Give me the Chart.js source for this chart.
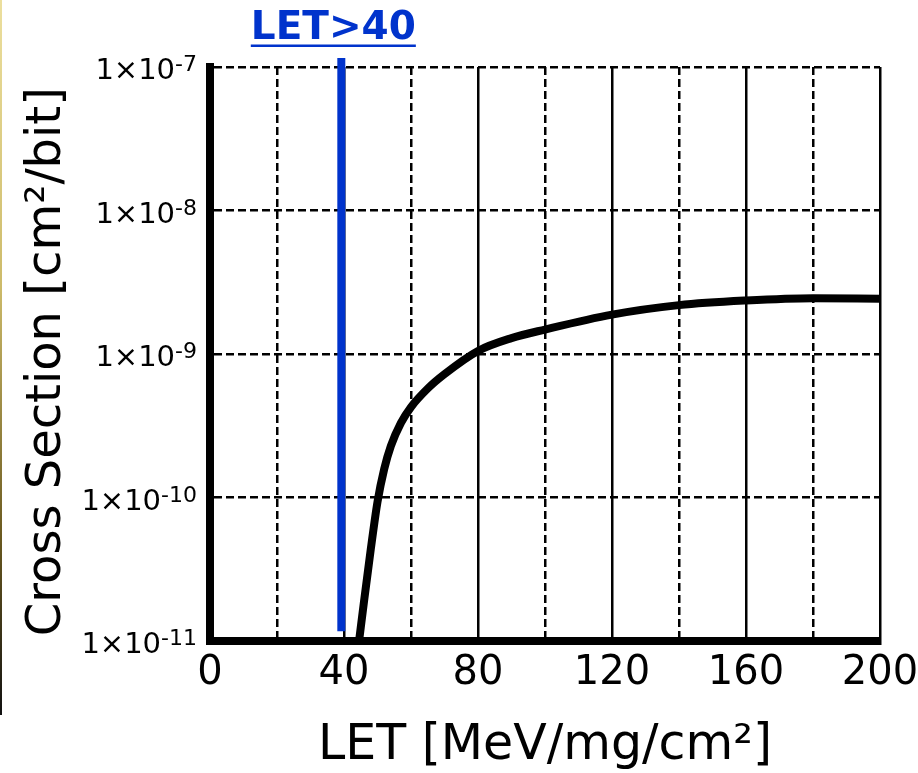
<!DOCTYPE html>
<html>
<head>
<meta charset="utf-8">
<script src="https://cdn.jsdelivr.net/npm/chart.js@4"></script>
<style>
html, body { margin: 0; padding: 0; background: #fff; }
#wrap { position: relative; width: 918px; height: 773px; }
#edge { position: absolute; left: 0; top: 0; width: 2px; height: 715px;
        background: linear-gradient(#ecdf9e, #cdbb6a 40%, #6b5a20 75%, #111); }
canvas { display: block; }
</style>
</head>
<body>
<div id="wrap">
  <div id="edge"></div>
  <canvas id="myChart" width="918" height="773"></canvas>
</div>
<script>
// LET [MeV/mg/cm2] vs cross section [cm2/bit]
var letValues = [44.5, 46, 48, 50, 52, 54, 57, 60, 65, 70, 80, 90, 100, 120, 140, 160, 180, 200];
var crossSection = [1e-11, 1.91e-11, 4.37e-11, 9.33e-11, 1.58e-10, 2.29e-10, 3.31e-10, 4.27e-10, 5.75e-10,
                    7.24e-10, 1.05e-9, 1.29e-9, 1.48e-9, 1.88e-9, 2.19e-9, 2.36e-9, 2.45e-9, 2.43e-9];

// threshold marker (blue vertical line)
var letThreshold = 39.2;
var markerRange = [1.17e-11, 1.155e-7];

var xTicks = [0, 20, 40, 60, 80, 100, 120, 140, 160, 180, 200];
var xTickLabels = ['0', '', '40', '', '80', '', '120', '', '160', '', '200'];
var xDashed = [20, 60, 100, 140, 180];
var yTicks = [1e-11, 1e-10, 1e-9, 1e-8, 1e-7];
var yTickBase = '1×10';
var yTickExponents = ['-11', '-10', '-9', '-8', '-7'];

var blue = '#0033cc';
var font = '"DejaVu Sans", Verdana, sans-serif';

// y tick labels with a real superscript exponent, placed on the y scale
var yLabels = {
    id: 'yLabels',
    afterDraw: function(chart)
    {
        var ctx = chart.ctx;
        var ys = chart.scales.y;
        var right = ys.right - 13;
        ctx.save();
        ctx.fillStyle = '#000';
        ctx.textAlign = 'left';
        ctx.textBaseline = 'alphabetic';
        for (var i = 0; i < yTicks.length; i++)
        {
            var py = ys.getPixelForValue(yTicks[i]);
            ctx.font = '22px ' + font;
            var ew = ctx.measureText(yTickExponents[i]).width;
            ctx.font = '29px ' + font;
            var bw = ctx.measureText(yTickBase).width;
            ctx.fillText(yTickBase, right - ew - bw, py + 12);
            ctx.font = '22px ' + font;
            ctx.fillText(yTickExponents[i], right - ew, py + 4);
        }
        ctx.restore();
    }
};

var markerLabel = {
    id: 'markerLabel',
    afterDraw: function(chart)
    {
        var ctx = chart.ctx;
        var px = chart.scales.x.getPixelForValue(letThreshold) - 8;
        ctx.save();
        ctx.font = 'bold 39px ' + font;
        ctx.fillStyle = blue;
        ctx.textAlign = 'center';
        ctx.textBaseline = 'alphabetic';
        ctx.fillText('LET>40', px, 39);
        var w = ctx.measureText('LET>40').width;
        ctx.fillRect(px - w / 2, 44.5, w, 2.5);
        ctx.restore();
    }
};

var curve = letValues.map(function(v, i) { return {x: v, y: crossSection[i]}; });
var marker = markerRange.map(function(v) { return {x: letThreshold, y: v}; });

var canvas = document.getElementById('myChart');
var myChart = new Chart(canvas.getContext('2d'),
{
    type: 'line',
    data:
    {
        datasets:
        [{
            data: curve,
            borderColor: '#000',
            borderWidth: 8,
            pointRadius: 0,
            cubicInterpolationMode: 'monotone'
        },
        {
            data: marker,
            borderColor: blue,
            borderWidth: 8,
            pointRadius: 0,
            clip: false
        }]
    },
    options:
    {
        responsive: false,
        animation: false,
        devicePixelRatio: 1,
        layout: {padding: {top: 67, right: 38, bottom: 0, left: 0}},
        plugins: {legend: {display: false}, tooltip: {enabled: false}, title: {display: false}},
        scales:
        {
            x:
            {
                type: 'linear',
                min: 0,
                max: 200,
                afterBuildTicks: function(s) { s.ticks = xTicks.map(function(v) { return {value: v}; }); },
                afterFit: function(s) { s.height = 132; s.paddingLeft = 0; s.paddingRight = 0; },
                ticks:
                {
                    autoSkip: false,
                    maxRotation: 0,
                    padding: 9,
                    color: '#000',
                    font: {family: font, size: 40},
                    callback: function(value, index) { return xTickLabels[index]; }
                },
                grid: {color: '#000', lineWidth: 2.5, drawTicks: false},
                border:
                {
                    display: true,
                    color: '#000',
                    width: 8,
                    dash: function(c) { return (c.tick && xDashed.indexOf(c.tick.value) >= 0) ? [8, 4] : []; }
                },
                title:
                {
                    display: true,
                    text: 'LET [MeV/mg/cm²]',
                    color: '#000',
                    font: {family: font, size: 49, lineHeight: 1.1},
                    padding: {top: 0, bottom: 0}
                }
            },
            y:
            {
                type: 'logarithmic',
                min: 1e-11,
                max: 1e-7,
                afterBuildTicks: function(s) { s.ticks = yTicks.map(function(v) { return {value: v}; }); },
                afterFit: function(s) { s.width = 210; s.paddingTop = 0; s.paddingBottom = 0; },
                ticks: {display: false},
                grid: {color: '#000', lineWidth: 2.5, drawTicks: false},
                border:
                {
                    display: true,
                    color: '#000',
                    width: 8,
                    dash: function(c) { return c.tick ? [8, 4] : []; }
                },
                title:
                {
                    display: true,
                    text: 'Cross Section [cm²/bit] ',
                    color: '#000',
                    font: {family: font, size: 48, lineHeight: 1.2},
                    padding: {top: 19, bottom: 0}
                }
            }
        }
    },
    plugins: [yLabels, markerLabel]
});
</script>
</body>
</html>
